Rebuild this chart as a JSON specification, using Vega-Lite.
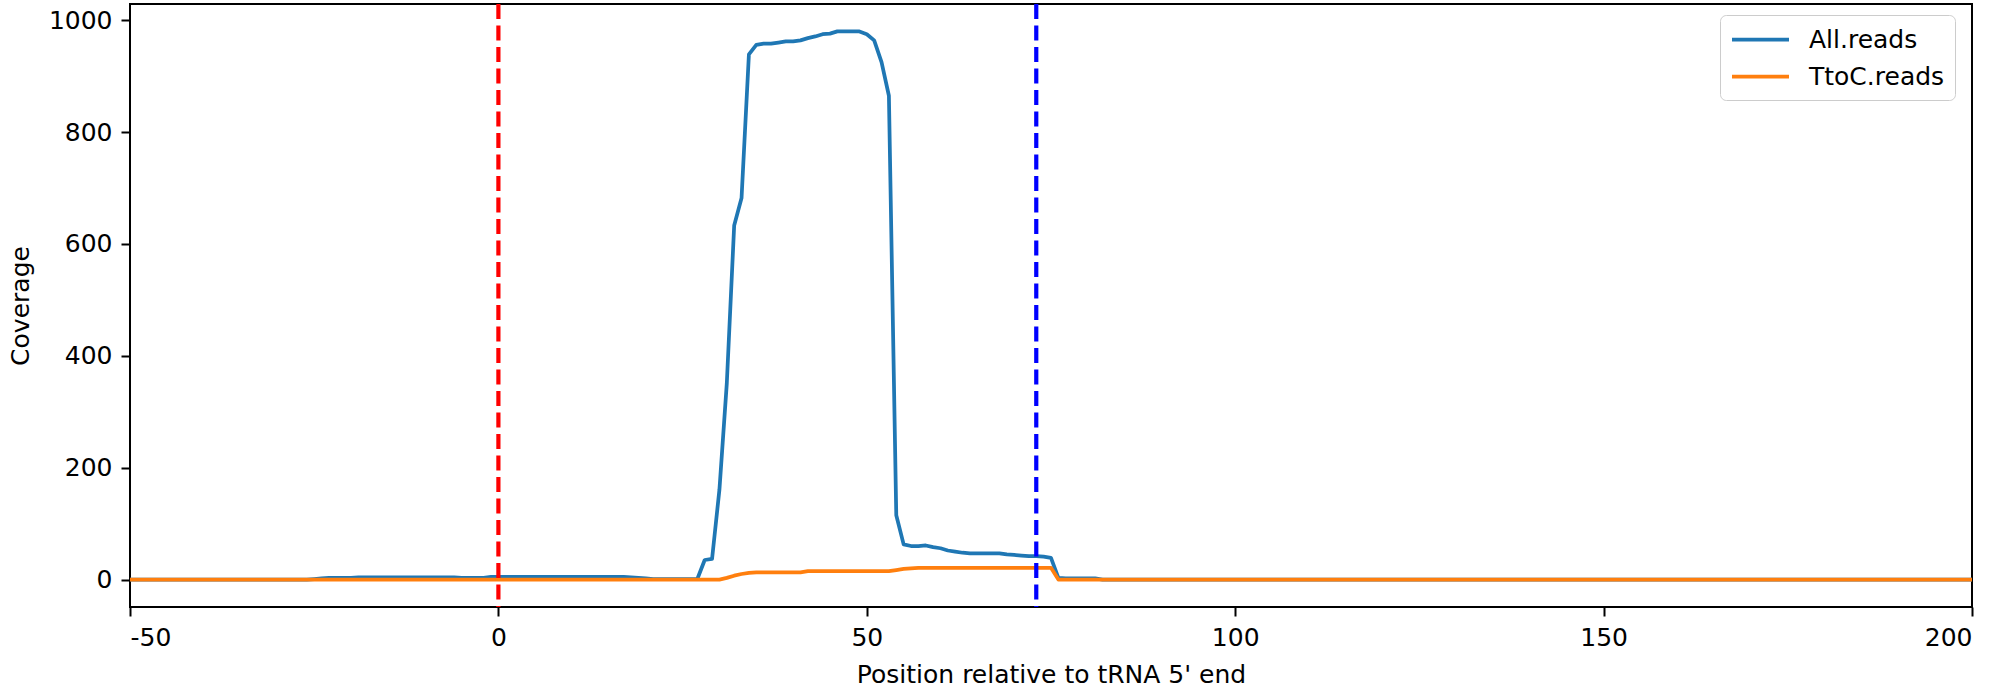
{
"$schema": "https://vega.github.io/schema/vega-lite/v6.json",
"width": 1842,
"height": 603,
"autosize": {"type": "none"},
"padding": {"left": 130, "top": 4, "right": 29, "bottom": 88},
"background": "#ffffff",
"config": {
  "font": "DejaVu Sans",
  "view": {"stroke": "#000000", "strokeWidth": 2},
  "axis": {"grid": false, "domain": false, "tickColor": "#000000", "tickWidth": 2, "tickSize": 9, "labelPadding": 9, "labelFontSize": 25, "labelColor": "#000000", "titleFontSize": 25, "titleFontWeight": "normal", "titleColor": "#000000", "labelFont": "DejaVu Sans", "titleFont": "DejaVu Sans"}
},
"datasets": {
  "cov": [
{"p":-50,"a":0,"t":0},{"p":-49,"a":0,"t":0},{"p":-48,"a":0,"t":0},{"p":-47,"a":0,"t":0},{"p":-46,"a":0,"t":0},{"p":-45,"a":0,"t":0},{"p":-44,"a":0,"t":0},{"p":-43,"a":0,"t":0},{"p":-42,"a":0,"t":0},{"p":-41,"a":0,"t":0},
{"p":-40,"a":0,"t":0},{"p":-39,"a":0,"t":0},{"p":-38,"a":0,"t":0},{"p":-37,"a":0,"t":0},{"p":-36,"a":0,"t":0},{"p":-35,"a":0,"t":0},{"p":-34,"a":0,"t":0},{"p":-33,"a":0,"t":0},{"p":-32,"a":0,"t":0},{"p":-31,"a":0,"t":0},
{"p":-30,"a":0,"t":0},{"p":-29,"a":0,"t":0},{"p":-28,"a":0,"t":0},{"p":-27,"a":0,"t":0},{"p":-26,"a":0,"t":0},{"p":-25,"a":1,"t":0},{"p":-24,"a":2,"t":0},{"p":-23,"a":3,"t":0},{"p":-22,"a":3,"t":0},{"p":-21,"a":3,"t":0},
{"p":-20,"a":3,"t":0},{"p":-19,"a":4,"t":0},{"p":-18,"a":4,"t":0},{"p":-17,"a":4,"t":0},{"p":-16,"a":4,"t":0},{"p":-15,"a":4,"t":0},{"p":-14,"a":4,"t":0},{"p":-13,"a":4,"t":0},{"p":-12,"a":4,"t":0},{"p":-11,"a":4,"t":0},
{"p":-10,"a":4,"t":0},{"p":-9,"a":4,"t":0},{"p":-8,"a":4,"t":0},{"p":-7,"a":4,"t":0},{"p":-6,"a":4,"t":0},{"p":-5,"a":3,"t":0},{"p":-4,"a":3,"t":0},{"p":-3,"a":3,"t":0},{"p":-2,"a":3,"t":0},{"p":-1,"a":5,"t":0},
{"p":0,"a":5,"t":0},{"p":1,"a":5,"t":0},{"p":2,"a":5,"t":0},{"p":3,"a":5,"t":0},{"p":4,"a":5,"t":0},{"p":5,"a":5,"t":0},{"p":6,"a":5,"t":0},{"p":7,"a":5,"t":0},{"p":8,"a":5,"t":0},{"p":9,"a":5,"t":0},
{"p":10,"a":5,"t":0},{"p":11,"a":5,"t":0},{"p":12,"a":5,"t":0},{"p":13,"a":5,"t":0},{"p":14,"a":5,"t":0},{"p":15,"a":5,"t":0},{"p":16,"a":5,"t":0},{"p":17,"a":5,"t":0},{"p":18,"a":4,"t":0},{"p":19,"a":3,"t":0},
{"p":20,"a":2,"t":0},{"p":21,"a":1,"t":0},{"p":22,"a":1,"t":0},{"p":23,"a":1,"t":0},{"p":24,"a":1,"t":0},{"p":25,"a":1,"t":0},{"p":26,"a":1,"t":0},{"p":27,"a":1,"t":0},{"p":28,"a":35,"t":0},{"p":29,"a":37,"t":0},
{"p":30,"a":161,"t":0},{"p":31,"a":351,"t":3},{"p":32,"a":633,"t":7},{"p":33,"a":682,"t":10},{"p":34,"a":939,"t":12},{"p":35,"a":956,"t":13},{"p":36,"a":958,"t":13},{"p":37,"a":958,"t":13},{"p":38,"a":960,"t":13},{"p":39,"a":962,"t":13},
{"p":40,"a":962,"t":13},{"p":41,"a":964,"t":13},{"p":42,"a":968,"t":15},{"p":43,"a":971,"t":15},{"p":44,"a":975,"t":15},{"p":45,"a":976,"t":15},{"p":46,"a":980,"t":15},{"p":47,"a":980,"t":15},{"p":48,"a":980,"t":15},{"p":49,"a":980,"t":15},
{"p":50,"a":975,"t":15},{"p":51,"a":964,"t":15},{"p":52,"a":925,"t":15},{"p":53,"a":865,"t":15},{"p":54,"a":115,"t":17},{"p":55,"a":63,"t":19},{"p":56,"a":60,"t":20},{"p":57,"a":60,"t":21},{"p":58,"a":61,"t":21},{"p":59,"a":58,"t":21},
{"p":60,"a":56,"t":21},{"p":61,"a":52,"t":21},{"p":62,"a":50,"t":21},{"p":63,"a":48,"t":21},{"p":64,"a":47,"t":21},{"p":65,"a":47,"t":21},{"p":66,"a":47,"t":21},{"p":67,"a":47,"t":21},{"p":68,"a":47,"t":21},{"p":69,"a":45,"t":21},
{"p":70,"a":44,"t":21},{"p":71,"a":43,"t":21},{"p":72,"a":42,"t":21},{"p":73,"a":42,"t":21},{"p":74,"a":41,"t":21},{"p":75,"a":39,"t":21},{"p":76,"a":3,"t":0},{"p":77,"a":2,"t":0},{"p":78,"a":2,"t":0},{"p":79,"a":2,"t":0},
{"p":80,"a":2,"t":0},{"p":81,"a":2,"t":0},{"p":82,"a":0,"t":0},{"p":83,"a":0,"t":0},{"p":84,"a":0,"t":0},{"p":85,"a":0,"t":0},{"p":86,"a":0,"t":0},{"p":87,"a":0,"t":0},{"p":88,"a":0,"t":0},{"p":89,"a":0,"t":0},
{"p":90,"a":0,"t":0},{"p":91,"a":0,"t":0},{"p":92,"a":0,"t":0},{"p":93,"a":0,"t":0},{"p":94,"a":0,"t":0},{"p":95,"a":0,"t":0},{"p":96,"a":0,"t":0},{"p":97,"a":0,"t":0},{"p":98,"a":0,"t":0},{"p":99,"a":0,"t":0},
{"p":100,"a":0,"t":0},{"p":101,"a":0,"t":0},{"p":102,"a":0,"t":0},{"p":103,"a":0,"t":0},{"p":104,"a":0,"t":0},{"p":105,"a":0,"t":0},{"p":106,"a":0,"t":0},{"p":107,"a":0,"t":0},{"p":108,"a":0,"t":0},{"p":109,"a":0,"t":0},
{"p":110,"a":0,"t":0},{"p":111,"a":0,"t":0},{"p":112,"a":0,"t":0},{"p":113,"a":0,"t":0},{"p":114,"a":0,"t":0},{"p":115,"a":0,"t":0},{"p":116,"a":0,"t":0},{"p":117,"a":0,"t":0},{"p":118,"a":0,"t":0},{"p":119,"a":0,"t":0},
{"p":120,"a":0,"t":0},{"p":121,"a":0,"t":0},{"p":122,"a":0,"t":0},{"p":123,"a":0,"t":0},{"p":124,"a":0,"t":0},{"p":125,"a":0,"t":0},{"p":126,"a":0,"t":0},{"p":127,"a":0,"t":0},{"p":128,"a":0,"t":0},{"p":129,"a":0,"t":0},
{"p":130,"a":0,"t":0},{"p":131,"a":0,"t":0},{"p":132,"a":0,"t":0},{"p":133,"a":0,"t":0},{"p":134,"a":0,"t":0},{"p":135,"a":0,"t":0},{"p":136,"a":0,"t":0},{"p":137,"a":0,"t":0},{"p":138,"a":0,"t":0},{"p":139,"a":0,"t":0},
{"p":140,"a":0,"t":0},{"p":141,"a":0,"t":0},{"p":142,"a":0,"t":0},{"p":143,"a":0,"t":0},{"p":144,"a":0,"t":0},{"p":145,"a":0,"t":0},{"p":146,"a":0,"t":0},{"p":147,"a":0,"t":0},{"p":148,"a":0,"t":0},{"p":149,"a":0,"t":0},
{"p":150,"a":0,"t":0},{"p":151,"a":0,"t":0},{"p":152,"a":0,"t":0},{"p":153,"a":0,"t":0},{"p":154,"a":0,"t":0},{"p":155,"a":0,"t":0},{"p":156,"a":0,"t":0},{"p":157,"a":0,"t":0},{"p":158,"a":0,"t":0},{"p":159,"a":0,"t":0},
{"p":160,"a":0,"t":0},{"p":161,"a":0,"t":0},{"p":162,"a":0,"t":0},{"p":163,"a":0,"t":0},{"p":164,"a":0,"t":0},{"p":165,"a":0,"t":0},{"p":166,"a":0,"t":0},{"p":167,"a":0,"t":0},{"p":168,"a":0,"t":0},{"p":169,"a":0,"t":0},
{"p":170,"a":0,"t":0},{"p":171,"a":0,"t":0},{"p":172,"a":0,"t":0},{"p":173,"a":0,"t":0},{"p":174,"a":0,"t":0},{"p":175,"a":0,"t":0},{"p":176,"a":0,"t":0},{"p":177,"a":0,"t":0},{"p":178,"a":0,"t":0},{"p":179,"a":0,"t":0},
{"p":180,"a":0,"t":0},{"p":181,"a":0,"t":0},{"p":182,"a":0,"t":0},{"p":183,"a":0,"t":0},{"p":184,"a":0,"t":0},{"p":185,"a":0,"t":0},{"p":186,"a":0,"t":0},{"p":187,"a":0,"t":0},{"p":188,"a":0,"t":0},{"p":189,"a":0,"t":0},
{"p":190,"a":0,"t":0},{"p":191,"a":0,"t":0},{"p":192,"a":0,"t":0},{"p":193,"a":0,"t":0},{"p":194,"a":0,"t":0},{"p":195,"a":0,"t":0},{"p":196,"a":0,"t":0},{"p":197,"a":0,"t":0},{"p":198,"a":0,"t":0},{"p":199,"a":0,"t":0},
{"p":200,"a":0,"t":0}
  ],
  "marks": [
    {"x": 0, "kind": "start"},
    {"x": 73, "kind": "end"}
  ]
},
"layer": [
  {
    "data": {"name": "cov"},
    "transform": [{"fold": ["a", "t"], "as": ["series", "value"]}],
    "mark": {"type": "line", "strokeWidth": 3.75, "strokeJoin": "round", "clip": true},
    "encoding": {
      "x": {"field": "p", "type": "quantitative", "scale": {"domain": [-50, 200], "nice": false, "zero": false}, "axis": {"values": [-50, 0, 50, 100, 150, 200], "labelExpr": "toString(datum.value)", "title": "Position relative to tRNA 5' end", "titlePadding": 12}},
      "y": {"field": "value", "type": "quantitative", "scale": {"domain": [-49, 1029], "nice": false, "zero": false}, "axis": {"values": [0, 200, 400, 600, 800, 1000], "labelExpr": "toString(datum.value)", "title": "Coverage", "titlePadding": 15}},
      "color": {"field": "series", "type": "nominal", "scale": {"domain": ["a", "t"], "range": ["#1f77b4", "#ff7f0e"]},
        "legend": {"orient": "none", "legendX": 1590, "legendY": 11, "title": null, "symbolType": "M-1,0H3.56", "symbolSize": 625, "symbolStrokeWidth": 3.75, "labelFontSize": 25, "labelFont": "DejaVu Sans", "labelColor": "#000000", "fillColor": "#ffffff", "strokeColor": "#cccccc", "cornerRadius": 6, "padding": 10, "labelOffset": 50, "rowPadding": 9,
          "labelExpr": "datum.label == 'a' ? 'All.reads' : 'TtoC.reads'"}}
    }
  },
  {
    "data": {"name": "marks"},
    "transform": [{"filter": "datum.kind == 'start'"}],
    "mark": {"type": "rule", "color": "#ff0000", "strokeWidth": 4.2, "strokeDash": [15, 6.5]},
    "encoding": {"x": {"field": "x", "type": "quantitative"}}
  },
  {
    "data": {"name": "marks"},
    "transform": [{"filter": "datum.kind == 'end'"}],
    "mark": {"type": "rule", "color": "#0000ff", "strokeWidth": 4.2, "strokeDash": [15, 6.5]},
    "encoding": {"x": {"field": "x", "type": "quantitative"}}
  }
]
}
